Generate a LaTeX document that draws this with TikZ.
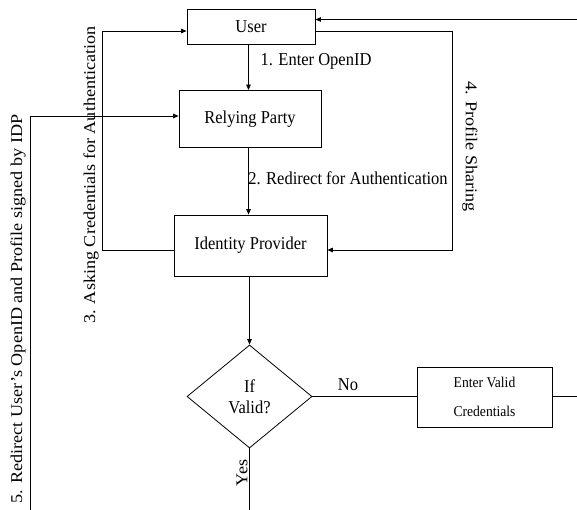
\documentclass[tikz,border=0pt]{standalone}
\usepackage{fontspec}
\setmainfont{Liberation Serif}
\usetikzlibrary{arrows.meta,shapes.geometric}
\newcommand\tx[1]{\scalebox{1}[1.1]{#1}}
\newcommand\rx[1]{\scalebox{1.1}[1]{#1}}
\begin{document}
\begin{tikzpicture}[x=1pt,y=-1pt,
  line width=0.8pt,
  arr/.style={-{Triangle[length=5.5pt,width=4.5pt]}},
  plain/.style={},
  box/.style={draw,rectangle,inner sep=0pt,font=\fontsize{16.5}{20}\selectfont},
  lab/.style={inner sep=0pt,font=\fontsize{16.5}{20}\selectfont},
  dia/.style={draw,diamond,inner sep=0pt,shape aspect=1.2,align=center,font=\fontsize{16.5}{21}\selectfont}
]
\useasboundingbox (0,0) rectangle (577,510);
% nodes
\node[box,minimum width=128pt,minimum height=35pt] (user) at (251,26.5) {\tx{User}};
\node[box,minimum width=142pt,minimum height=57pt] (rp) at (250,119) {\tx{Relying Party}};
\node[box,minimum width=153pt,minimum height=61pt] (idp) at (250.5,245.5) {\tx{Identity Provider}};
\node[dia,minimum width=125pt,minimum height=103pt] (valid) at (249.5,396.5) {\tx{If}\\\tx{Valid?}};
\node[box,minimum width=135pt,minimum height=60pt,align=center,font=\fontsize{13.6}{29}\selectfont] (evc) at (484.5,397) {\tx{Enter Valid}\\\tx{Credentials}};
% free ends
\coordinate (ax) at (248.5,0);
\coordinate (rin) at (577,19.5);
\coordinate (c4) at (452.5,31);
\coordinate (c3) at (102,31);
\coordinate (c5) at (30,510);
\coordinate (c5t) at (30,116);
\coordinate (eout) at (577,396);
\coordinate (yend) at (249.5,510);
% connectors
\draw[arr] (rin) -- (rin -| user.east);
\draw[arr] (user.south -| ax) -- (rp.north -| ax);
\draw[arr] (rp.south -| ax) -- (idp.north -| ax);
\draw[arr] ([yshift=-4.5pt]user.east) -| (c4) |- ([yshift=-4.5pt]idp.east);
\draw[arr] ([yshift=-4.5pt]idp.west) -| (c3) -- ([yshift=-4.5pt]user.west);
\draw[arr] (c5) -- (c5t) -- (c5t -| rp.west);
\draw[arr] (idp.south -| valid.north) -- (valid.north);
\draw (valid.east) -- (valid.east -| evc.west);
\draw (evc.east |- eout) -- (eout);
\draw (valid.south) -- (yend);
% labels
\node[lab] (l1) at (316,61) {\tx{1. Enter OpenID}};
\node[lab] (l2) at (348,178) {\tx{2. Redirect for Authentication}};
\node[lab,rotate=90] (l3) at (91,175) {\rx{3. Asking Credentials for Authentication}};
\node[lab,rotate=-90] (l4) at (470,146.5) {\rx{4. Profile Sharing}};
\node[lab,rotate=90] (l5) at (18,309) {\rx{5. Redirect User’s OpenID and Profile signed by IDP}};
\node[lab] (lno) at (348,385) {\tx{No}};
\node[lab,rotate=90] (lyes) at (242,473) {\rx{Yes}};
\end{tikzpicture}
\end{document}
